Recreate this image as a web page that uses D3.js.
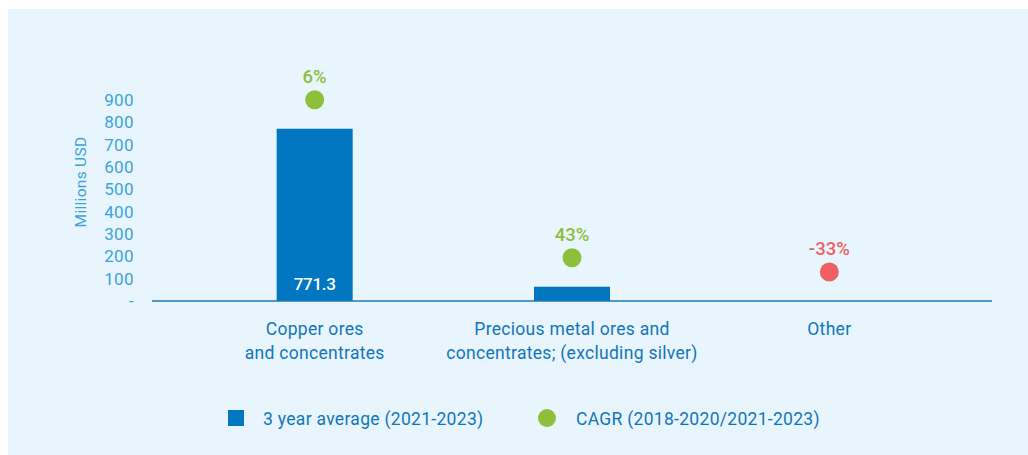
<!DOCTYPE html>
<html>
<head>
<meta charset="utf-8">
<script src="https://cdn.jsdelivr.net/npm/d3@7"></script>
<style>
  html, body { margin: 0; padding: 0; background: #ffffff; }
  svg { display: block; font-family: Roboto, "Noto Sans", sans-serif; }
</style>
</head>
<body>
<svg id="chart" width="1028" height="455"></svg>
<script>
// Export categories and values (millions USD, CAGR in %)
const categories = [
  ["Copper ores", "and concentrates"],
  ["Precious metal ores and", "concentrates; (excluding silver)"],
  ["Other"]
];
const avgValues = [771.3, 64, 0];
const cagrValues = [6, 43, -33];
const yTickValues = [0, 100, 200, 300, 400, 500, 600, 700, 800, 900];
const yTickLabels = ["-", "100", "200", "300", "400", "500", "600", "700", "800", "900"];
const legendLabels = ["3 year average (2021-2023)", "CAGR (2018-2020/2021-2023)"];

const colors = {
  panel: "#e8f5fd",
  bar: "#0077c0",
  axis: "#1f78bd",
  tick: "#3aa3dc",
  cat: "#1275bb",
  up: "#8dbf3a",
  down: "#ee6064"
};

const svg = d3.select("#chart");

// light panel behind everything
svg.append("rect")
  .attr("x", 8).attr("y", 9)
  .attr("width", 1020).attr("height", 446)
  .attr("fill", colors.panel);

const keys = categories.map((c, i) => "c" + i);

const x = d3.scaleBand()
  .domain(keys)
  .range([186, 958])
  .padding(0);

const y = d3.scaleLinear()
  .domain([0, 900])
  .range([301, 100]);

const barW = 76;
const cx = k => x(k) + x.bandwidth() / 2;

// y axis labels (no line)
const yAxis = d3.axisLeft(y)
  .tickValues(yTickValues)
  .tickFormat((d, i) => yTickLabels[i])
  .tickSize(0)
  .tickPadding(0);

const gy = svg.append("g")
  .attr("transform", "translate(134,0)")
  .call(yAxis);
gy.select(".domain").remove();
gy.selectAll("text")
  .attr("fill", colors.tick)
  .style("font-size", "17px")
  .style("letter-spacing", "0.4px")
  .style("font-family", "Roboto, sans-serif");

// axis title
svg.append("text")
  .attr("transform", "translate(86,182) rotate(-90)")
  .attr("text-anchor", "middle")
  .attr("fill", colors.tick)
  .style("font-size", "15.5px")
  .style("letter-spacing", "0.3px")
  .text("Millions USD");

// bars
svg.append("g").selectAll("rect")
  .data(avgValues)
  .join("rect")
  .attr("x", (d, i) => cx(keys[i]) - barW / 2)
  .attr("y", d => y(d))
  .attr("width", barW)
  .attr("height", d => y(0) - y(d))
  .attr("fill", colors.bar);

// baseline
svg.append("line")
  .attr("x1", 152).attr("x2", 992)
  .attr("y1", y(0)).attr("y2", y(0))
  .attr("stroke", colors.axis)
  .attr("stroke-width", 1.5);

// value label inside the first bar
svg.append("text")
  .attr("x", cx(keys[0]))
  .attr("y", y(0) - 11)
  .attr("text-anchor", "middle")
  .attr("fill", "#ffffff")
  .style("font-size", "17px")
  .style("font-weight", "500")
  .style("letter-spacing", "-0.3px")
  .text(d3.format(".1f")(avgValues[0]));

// CAGR dots sitting above each bar, with labels
const dotGap = 29;
const dots = svg.append("g").selectAll("g")
  .data(cagrValues)
  .join("g")
  .attr("transform", (d, i) => `translate(${cx(keys[i])},${y(avgValues[i]) - dotGap})`);

dots.append("circle")
  .attr("r", 9.5)
  .attr("fill", d => d >= 0 ? colors.up : colors.down);

dots.append("text")
  .attr("y", -17)
  .attr("text-anchor", "middle")
  .attr("fill", d => d >= 0 ? colors.up : colors.down)
  .style("font-size", "18.5px")
  .style("font-weight", "500")
  .text(d => d + "%");

// category labels
const cat = svg.append("g").selectAll("text")
  .data(categories)
  .join("text")
  .attr("x", (d, i) => cx(keys[i]))
  .attr("y", 335)
  .attr("text-anchor", "middle")
  .attr("fill", colors.cat)
  .style("font-size", "17.5px")
  .style("letter-spacing", "0.3px");
cat.selectAll("tspan")
  .data(d => d)
  .join("tspan")
  .attr("x", function () { return this.parentNode.getAttribute("x"); })
  .attr("dy", (d, i) => i === 0 ? 0 : 24)
  .text(d => d);

// legend
const lg = svg.append("g");
lg.append("rect")
  .attr("x", 228).attr("y", 410)
  .attr("width", 16).attr("height", 16)
  .attr("fill", colors.bar);
lg.append("text")
  .attr("x", 263).attr("y", 425)
  .attr("fill", colors.cat)
  .style("font-size", "17.5px")
  .style("letter-spacing", "0.3px")
  .text(legendLabels[0]);
lg.append("circle")
  .attr("cx", 547).attr("cy", 418)
  .attr("r", 9)
  .attr("fill", colors.up);
lg.append("text")
  .attr("x", 576).attr("y", 425)
  .attr("fill", colors.cat)
  .style("font-size", "17.5px")
  .style("letter-spacing", "0.3px")
  .text(legendLabels[1]);
</script>
</body>
</html>
